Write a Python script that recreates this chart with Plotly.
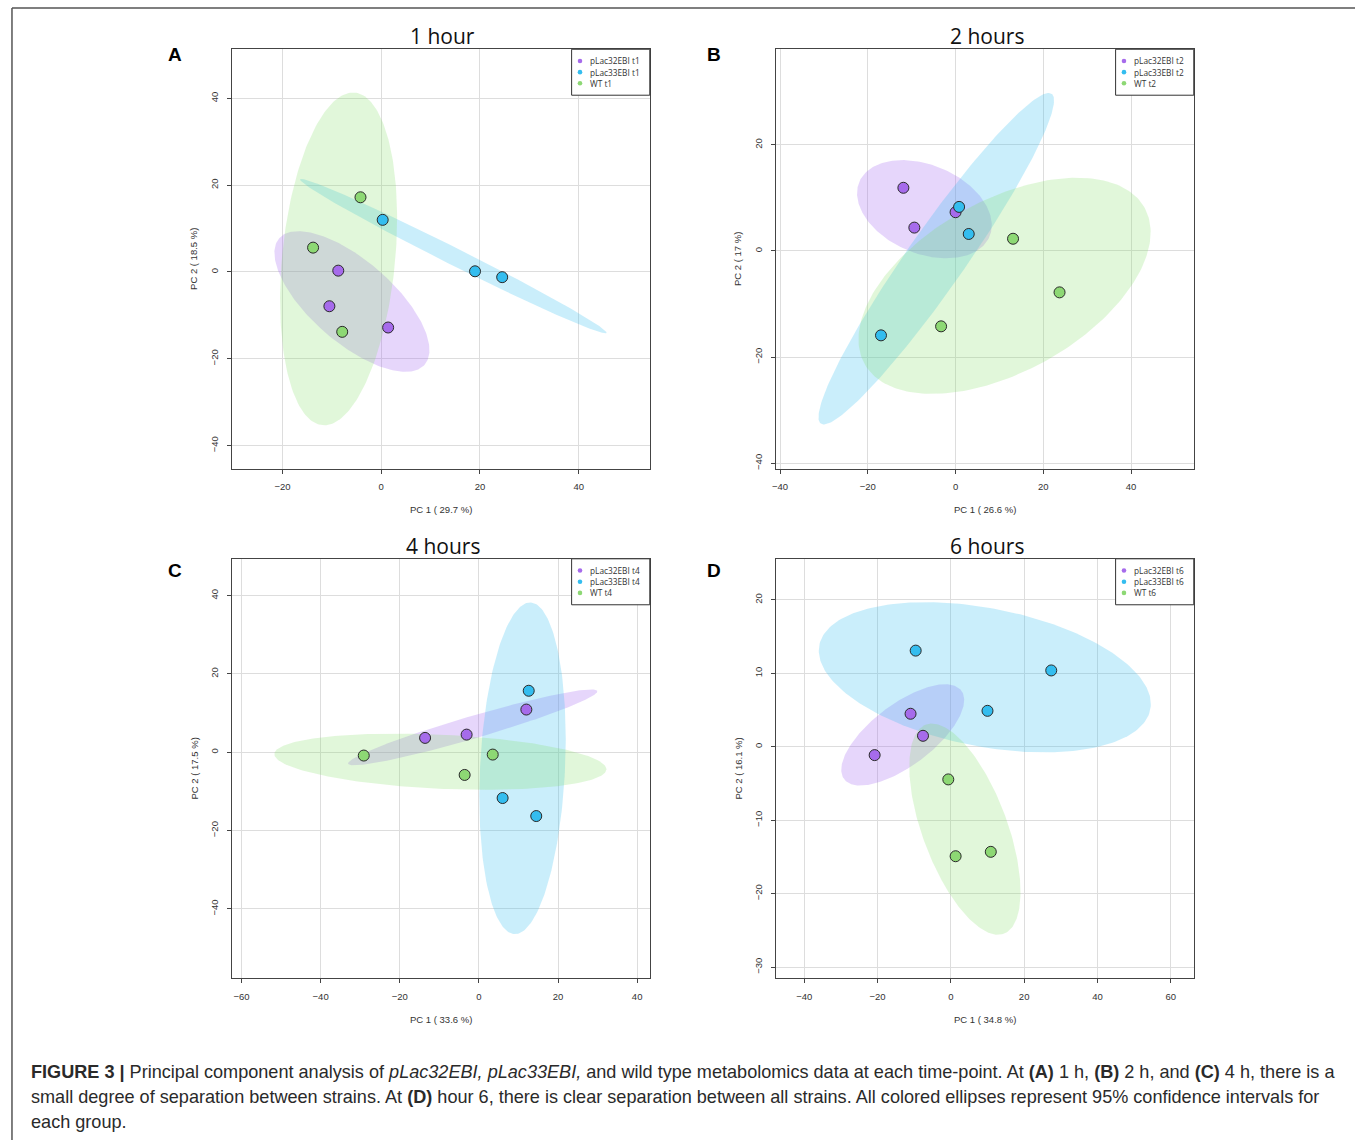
import numpy as np
import plotly.graph_objects as go

W, H = 1355, 1141

# ---------------- data ----------------
groups = ["pLac32EBI", "pLac33EBI", "WT"]
time_labels = ["t1", "t2", "t4", "t6"]
panel_titles = ["1 hour", "2 hours", "4 hours", "6 hours"]
panel_letters = ["A", "B", "C", "D"]
x_titles = ["PC 1 ( 29.7 %)", "PC 1 ( 26.6 %)", "PC 1 ( 33.6 %)", "PC 1 ( 34.8 %)"]
y_titles = ["PC 2 ( 18.5 %)", "PC 2 ( 17 %)", "PC 2 ( 17.5 %)", "PC 2 ( 16.1 %)"]

# (PC1 scores, PC2 scores) for each strain and time-point
t1_plac32 = ([-8.7, -10.5, 1.4], [0.3, -7.9, -12.8])
t1_plac33 = ([0.3, 19.0, 24.5], [12.0, 0.15, -1.2])
t1_wt = ([-4.2, -13.8, -7.9], [17.2, 5.6, -13.8])

t2_plac32 = ([-11.9, -9.4, 0.0], [11.9, 4.4, 7.3])
t2_plac33 = ([0.8, 3.0, -17.0], [8.3, 3.2, -15.9])
t2_wt = ([13.1, 23.7, -3.3], [2.3, -7.8, -14.2])

t4_plac32 = ([-13.6, -3.1, 12.0], [3.66, 4.5, 10.9])
t4_plac33 = ([12.6, 6.0, 14.5], [15.7, -11.7, -16.3])
t4_wt = ([-29.1, 3.5, -3.6], [-0.85, -0.6, -5.8])

t6_plac32 = ([-11.0, -7.6, -20.8], [4.5, 1.5, -1.13])
t6_plac33 = ([-9.6, 27.4, 10.0], [13.1, 10.4, 4.9])
t6_wt = ([-0.7, 1.3, 10.9], [-4.44, -14.9, -14.3])

panels_data = [
    [t1_plac32, t1_plac33, t1_wt],
    [t2_plac32, t2_plac33, t2_wt],
    [t4_plac32, t4_plac33, t4_wt],
    [t6_plac32, t6_plac33, t6_wt],
]

# ---------------- styles ----------------
point_colors = ["#A66BEB", "#34BDEF", "#8DD874"]
fill_colors = ["rgba(160,95,240,0.26)", "rgba(50,190,240,0.26)", "rgba(130,220,100,0.24)"]

x_ranges = [[-30.3, 54.4], [-41.0, 54.3], [-62.5, 43.2], [-47.8, 66.3]]
y_ranges = [[-45.3, 51.3], [-41.0, 38.0], [-57.7, 49.4], [-31.5, 25.6]]
x_dticks = [20, 20, 20, 20]
y_dticks = [20, 20, 20, 10]

# plot boxes in pixels: (left, top, right, bottom)
boxes = [
    (228.3, 49.3, 647.7, 469.0),
    (774.0, 49.3, 1193.3, 469.0),
    (228.3, 559.3, 647.7, 979.0),
    (774.0, 559.3, 1193.3, 979.0),
]
letter_pos = [(172, 55), (712.5, 55), (172, 571), (712.5, 571)]


def fx(px):
    return px / W


def fy(py):
    return 1 - py / H


def conf_ellipse(xs, ys, n=240):
    pts = np.column_stack([xs, ys])
    c = pts.mean(axis=0)
    cov = np.cov(pts, rowvar=False)
    t = np.sqrt(-2 * np.log(0.05))  # sqrt(qchisq(0.95, 2))
    vals, vecs = np.linalg.eigh(cov)
    vals = np.clip(vals, 0, None)
    th = np.linspace(0, 2 * np.pi, n)
    circ = np.vstack([np.cos(th), np.sin(th)])
    e = vecs @ (np.sqrt(vals)[:, None] * circ) * t + c[:, None]
    return e[0], e[1]


fig = go.Figure()
tick_font = dict(family="Liberation Sans, Arial, sans-serif", size=9.5, color="#333333")
annotations = []
shapes = []

for i in range(4):
    ax = "" if i == 0 else str(i + 1)
    xref, yref = "x" + ax, "y" + ax
    # ellipses first
    for g in range(3):
        xs, ys = panels_data[i][g]
        ex, ey = conf_ellipse(xs, ys)
        fig.add_trace(go.Scatter(x=ex, y=ey, mode="lines", fill="toself",
                                 fillcolor=fill_colors[g], line=dict(width=0),
                                 hoverinfo="skip", showlegend=False,
                                 xaxis=xref, yaxis=yref))
    # points on top
    for g in range(3):
        xs, ys = panels_data[i][g]
        fig.add_trace(go.Scatter(x=xs, y=ys, mode="markers",
                                 marker=dict(size=11, color=point_colors[g],
                                             line=dict(color="#2a2a2a", width=1)),
                                 name=f"{groups[g]} {time_labels[i]}",
                                 showlegend=False, xaxis=xref, yaxis=yref))

    l, t, r, b = boxes[i]
    common = dict(showgrid=True, gridcolor="#DDDDDD", gridwidth=1, zeroline=False,
                  showline=True, linecolor="#444444", linewidth=1, mirror=True,
                  ticks="outside", ticklen=4, tickcolor="#444444", tickfont=tick_font,
                  ticklabelstandoff=5)
    fig.update_layout(**{
        "xaxis" + ax: dict(domain=[fx(l), fx(r)], range=x_ranges[i], dtick=x_dticks[i],
                           tick0=0, anchor=yref, **common),
        "yaxis" + ax: dict(domain=[fy(b), fy(t)], range=y_ranges[i], dtick=y_dticks[i],
                           tick0=0, anchor=xref, tickangle=-90, **common),
    })

    cx = (l + r) / 2
    # panel title
    annotations.append(dict(text=panel_titles[i], x=fx(cx + 2), y=fy(t - 13), xref="paper", yref="paper",
                            showarrow=False, xanchor="center", yanchor="middle",
                            font=dict(family="Open Sans, sans-serif", size=21, color="#111111")))
    # panel letter
    lx, ly = letter_pos[i]
    annotations.append(dict(text="<b>" + panel_letters[i] + "</b>", x=fx(lx), y=fy(ly), xref="paper",
                            yref="paper", showarrow=False, xanchor="center", yanchor="middle",
                            font=dict(family="Liberation Sans, Arial, sans-serif", size=19, color="#000000")))
    # axis titles
    annotations.append(dict(text=x_titles[i], x=fx(cx), y=fy(b + 41), xref="paper", yref="paper",
                            showarrow=False, xanchor="center", yanchor="middle",
                            font=dict(family="Liberation Sans, Arial, sans-serif", size=9.5, color="#333333")))
    annotations.append(dict(text=y_titles[i], x=fx(l - 37.7), y=fy((t + b) / 2), xref="paper", yref="paper",
                            showarrow=False, xanchor="center", yanchor="middle", textangle=-90,
                            font=dict(family="Liberation Sans, Arial, sans-serif", size=9.5, color="#333333")))
    # legend box (top-right corner of the plot)
    bl = r - 78.4
    shapes.append(dict(type="rect", xref="paper", yref="paper", x0=fx(bl), x1=fx(r),
                       y0=fy(t + 46), y1=fy(t), line=dict(color="#333333", width=1),
                       fillcolor="white", layer="above"))
    for g in range(3):
        ry = t + 11.7 + g * 11.2
        dx = bl + 8.4
        rad = 2.3
        shapes.append(dict(type="circle", xref="paper", yref="paper",
                           x0=fx(dx - rad), x1=fx(dx + rad), y0=fy(ry + rad), y1=fy(ry - rad),
                           fillcolor=point_colors[g], line=dict(width=0), layer="above"))
        annotations.append(dict(text=f"{groups[g]} {time_labels[i]}", x=fx(bl + 16), y=fy(ry),
                                xref="paper", yref="paper", showarrow=False,
                                xanchor="left", yanchor="middle",
                                font=dict(family="Open Sans, sans-serif", size=8.3, color="#333333")))

# figure frame
shapes.append(dict(type="line", xref="paper", yref="paper", x0=fx(8), x1=fx(8), y0=fy(8), y1=0,
                   line=dict(color="#555555", width=1.5)))
shapes.append(dict(type="line", xref="paper", yref="paper", x0=fx(8), x1=1, y0=fy(8), y1=fy(8),
                   line=dict(color="#555555", width=1.5)))

# caption
caption_lines = [
    "<b>FIGURE 3 |</b> Principal component analysis of <i>pLac32EBI, pLac33EBI,</i> and wild type "
    "metabolomics data at each time-point. At <b>(A)</b> 1 h, <b>(B)</b> 2 h, and <b>(C)</b> 4 h, there is a",
    "small degree of separation between strains. At <b>(D)</b> hour 6, there is clear separation between "
    "all strains. All colored ellipses represent 95% confidence intervals for",
    "each group.",
]
for k, line in enumerate(caption_lines):
    annotations.append(dict(text=line, x=fx(25), y=fy(1073 + 25 * k), xref="paper", yref="paper",
                            showarrow=False, xanchor="left", yanchor="middle",
                            font=dict(family="Liberation Sans, Arial, sans-serif", size=18.1, color="#2a2a2a")))

fig.update_layout(width=W, height=H, margin=dict(l=0, r=0, t=0, b=0),
                  paper_bgcolor="white", plot_bgcolor="white",
                  annotations=annotations, shapes=shapes, showlegend=False)

fig.write_html("out.html", config={"displayModeBar": False},
               post_script="document.body.style.margin='0';document.body.style.overflow='hidden';")
